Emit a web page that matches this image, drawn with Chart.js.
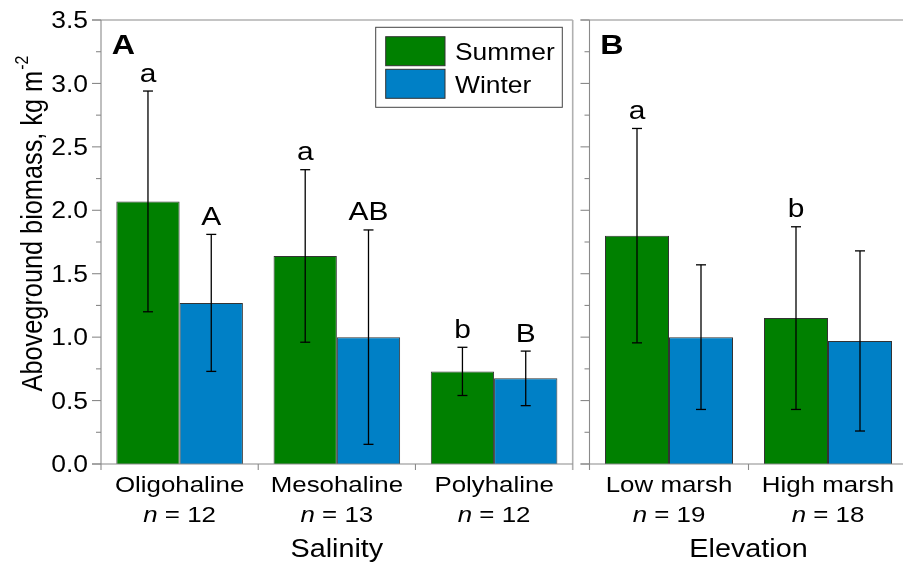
<!DOCTYPE html>
<html lang="en">
<head>
<meta charset="UTF-8" />
<title>Aboveground biomass by salinity and elevation</title>
<style>
  body { margin: 0; background: #fff; overflow: hidden; }
  .figure { position: relative; width: 903px; height: 562px; overflow: hidden; }
  #chartA { position: absolute; left: 0; top: 0; }
  #chartB { position: absolute; left: 580px; top: 0; }
</style>
<script src="https://cdn.jsdelivr.net/npm/chart.js"></script>
</head>
<body>
<div class="figure">
  <canvas id="chartA" width="580" height="562"></canvas>
  <canvas id="chartB" width="330" height="562"></canvas>
</div>
<script>
  // Panel A: salinity zones (mean and SD, kg m-2)
  const salinityZones = ['Oligohaline', 'Mesohaline', 'Polyhaline'];
  const salinityN = [12, 13, 12];
  const salinitySummer = [2.07, 1.64, 0.73];
  const salinitySummerSd = [0.87, 0.68, 0.19];
  const salinityWinter = [1.27, 1.0, 0.675];
  const salinityWinterSd = [0.54, 0.845, 0.215];
  const salinitySummerLetters = ['a', 'a', 'b'];
  const salinityWinterLetters = ['A', 'AB', 'B'];

  // Panel B: marsh elevation
  const elevationZones = ['Low marsh', 'High marsh'];
  const elevationN = [19, 18];
  const elevationSummer = [1.8, 1.15];
  const elevationSummerSd = [0.845, 0.72];
  const elevationWinter = [1.0, 0.97];
  const elevationWinterSd = [0.57, 0.71];
  const elevationSummerLetters = ['a', 'b'];
  const elevationWinterLetters = ['', ''];

  const yTicks = [0, 0.5, 1, 1.5, 2, 2.5, 3, 3.5];
  const yTickLabels = ['0.0', '0.5', '1.0', '1.5', '2.0', '2.5', '3.0', '3.5'];
  const seasons = ['Summer', 'Winter'];
  const seasonColors = ['#008000', '#0080c6'];

  const FONT = '"Liberation Sans", Arial, sans-serif';
  const SX = 1.15; // glyphs are set slightly wide
  const AXIS = '#8a8a8a';
  const FRAME = '#b0b0b0';

  function drawText(ctx, text, x, y, font, align, sx) {
    ctx.save();
    ctx.font = font;
    const w = ctx.measureText(text).width * sx;
    const x0 = align === 'center' ? x - w / 2 : align === 'right' ? x - w : x;
    ctx.translate(x0, y);
    ctx.scale(sx, 1);
    ctx.textAlign = 'left';
    ctx.textBaseline = 'alphabetic';
    ctx.fillStyle = '#000';
    ctx.fillText(text, 0, 0);
    ctx.restore();
  }

  // "n = 12" with an italic n, centred on x
  function drawN(ctx, n, x, y) {
    const size = 22.5;
    ctx.save();
    ctx.font = 'italic ' + size + 'px ' + FONT;
    const wn = ctx.measureText('n').width;
    ctx.font = size + 'px ' + FONT;
    const wr = ctx.measureText(' = ' + n).width;
    const x0 = x - (wn + wr) * SX / 2;
    ctx.restore();
    drawText(ctx, 'n', x0, y, 'italic ' + size + 'px ' + FONT, 'left', SX);
    drawText(ctx, ' = ' + n, x0 + wn * SX, y, size + 'px ' + FONT, 'left', SX);
  }

  function line(ctx, x1, y1, x2, y2) {
    ctx.beginPath();
    ctx.moveTo(x1, y1);
    ctx.lineTo(x2, y2);
    ctx.stroke();
  }

  function makePanel(cfg) {
    return {
      id: 'panel' + cfg.letter,
      afterDatasetsDraw(chart) {
        const ctx = chart.ctx;
        const y = chart.scales.y;
        ctx.save();
        ctx.strokeStyle = '#000';
        ctx.lineWidth = 1.3;
        chart.data.datasets.forEach((ds, di) => {
          chart.getDatasetMeta(di).data.forEach((bar, i) => {
            const v = ds.data[i];
            const top = y.getPixelForValue(v + ds.sd[i]);
            const bot = y.getPixelForValue(v - ds.sd[i]);
            line(ctx, bar.x, top, bar.x, bot);
            line(ctx, bar.x - 5, top, bar.x + 5, top);
            line(ctx, bar.x - 5, bot, bar.x + 5, bot);
            if (ds.letters[i]) {
              drawText(ctx, ds.letters[i], bar.x, top - 9.5, '26px ' + FONT, 'center', SX);
            }
          });
        });
        ctx.restore();
      },
      afterDraw(chart) {
        const ctx = chart.ctx;
        const a = chart.chartArea;
        const x = chart.scales.x;
        const y = chart.scales.y;
        const L = a.left, R = a.right, T = a.top, B = a.bottom;

        ctx.save();
        // frame: top and right edges
        ctx.strokeStyle = FRAME;
        ctx.lineWidth = 1.6;
        line(ctx, L - 9, T, R, T);
        line(ctx, R, T, R, B + 6);

        // axes and ticks
        ctx.strokeStyle = AXIS;
        ctx.lineWidth = 1.1;
        line(ctx, L, T, L, B + 6);
        line(ctx, L - 9, B, R, B);
        yTicks.forEach((v) => {
          const py = y.getPixelForValue(v);
          line(ctx, L - 9, py, L, py);
          if (v < 3.5) {
            const pm = y.getPixelForValue(v + 0.25);
            line(ctx, L - 5, pm, L, pm);
          }
        });
        const n = chart.data.labels.length;
        for (let i = 1; i < n; i++) {
          const xb = L + (i * (R - L)) / n;
          line(ctx, xb, B, xb, B + 6);
        }
        ctx.restore();

        if (cfg.yLabels) {
          yTicks.forEach((v, i) => {
            const py = y.getPixelForValue(v);
            drawText(ctx, yTickLabels[i], L - 13, py + 8.2, '23px ' + FONT, 'right', SX);
          });
        }

        // category names and sample sizes
        chart.data.labels.forEach((name, i) => {
          const cx = x.getPixelForValue(i);
          drawText(ctx, name, cx, 492, '22.5px ' + FONT, 'center', SX);
          drawN(ctx, cfg.n[i], cx, 521.7);
        });

        drawText(ctx, cfg.title, (L + R) / 2, 556.5, '25px ' + FONT, 'center', SX);
        drawText(ctx, cfg.letter, L + 10.7, 54.3, 'bold 28px ' + FONT, 'left', SX);

        if (cfg.yTitle) {
          ctx.save();
          ctx.translate(41.7, 224);
          ctx.rotate(-Math.PI / 2);
          ctx.scale(1, SX);
          ctx.fillStyle = '#000';
          ctx.textBaseline = 'alphabetic';
          ctx.textAlign = 'left';
          ctx.font = '25.3px ' + FONT;
          const main = 'Aboveground biomass, kg m';
          const w1 = ctx.measureText(main).width;
          ctx.font = '16px ' + FONT;
          const w2 = ctx.measureText('-2').width;
          const x0 = -(w1 + w2) / 2;
          ctx.font = '25.3px ' + FONT;
          ctx.fillText(main, x0, 0);
          ctx.font = '16px ' + FONT;
          ctx.fillText('-2', x0 + w1 + 1, -12);
          ctx.restore();
        }

        if (cfg.legend) {
          ctx.save();
          ctx.fillStyle = '#fff';
          ctx.fillRect(375.7, 27.3, 186.6, 80);
          ctx.strokeStyle = '#444';
          ctx.lineWidth = 1;
          ctx.strokeRect(375.7, 27.3, 186.6, 80);
          chart.data.datasets.forEach((ds, di) => {
            const top = di === 0 ? 36.7 : 69.3;
            ctx.fillStyle = ds.backgroundColor;
            ctx.fillRect(385.7, top, 59.3, 29);
            ctx.strokeStyle = '#333';
            ctx.strokeRect(385.7, top, 59.3, 29);
            drawText(ctx, ds.label, 455, top + 23.5, '24px ' + FONT, 'left', 1.1);
          });
          ctx.restore();
        }
      }
    };
  }

  function makeChart(id, cfg) {
    return new Chart(document.getElementById(id), {
      type: 'bar',
      data: {
        labels: cfg.labels,
        datasets: [
          {
            label: seasons[0],
            data: cfg.summer,
            sd: cfg.summerSd,
            letters: cfg.summerLetters,
            backgroundColor: seasonColors[0],
            borderColor: '#333',
            borderWidth: 1,
            categoryPercentage: 0.805,
            barPercentage: 1.0
          },
          {
            label: seasons[1],
            data: cfg.winter,
            sd: cfg.winterSd,
            letters: cfg.winterLetters,
            backgroundColor: seasonColors[1],
            borderColor: '#333',
            borderWidth: 1,
            categoryPercentage: 0.805,
            barPercentage: 1.0
          }
        ]
      },
      options: {
        responsive: false,
        animation: false,
        layout: { padding: { top: 20, right: cfg.padRight, left: 0, bottom: 0 } },
        plugins: { legend: { display: false }, tooltip: { enabled: false } },
        scales: {
          x: {
            grid: { display: false },
            border: { display: false },
            ticks: { display: false },
            afterFit: (s) => { s.height = 98; }
          },
          y: {
            min: 0,
            max: 3.5,
            grid: { display: false },
            border: { display: false },
            ticks: { display: false, stepSize: 0.5 },
            afterFit: (s) => { s.width = cfg.axisWidth; }
          }
        }
      },
      plugins: [makePanel(cfg)]
    });
  }

  makeChart('chartA', {
    labels: salinityZones,
    n: salinityN,
    summer: salinitySummer,
    summerSd: salinitySummerSd,
    winter: salinityWinter,
    winterSd: salinityWinterSd,
    summerLetters: salinitySummerLetters,
    winterLetters: salinityWinterLetters,
    letter: 'A',
    title: 'Salinity',
    yLabels: true,
    yTitle: true,
    legend: true,
    axisWidth: 101,
    padRight: 7.3
  });

  makeChart('chartB', {
    labels: elevationZones,
    n: elevationN,
    summer: elevationSummer,
    summerSd: elevationSummerSd,
    winter: elevationWinter,
    winterSd: elevationWinterSd,
    summerLetters: elevationSummerLetters,
    winterLetters: elevationWinterLetters,
    letter: 'B',
    title: 'Elevation',
    yLabels: false,
    yTitle: false,
    legend: false,
    axisWidth: 9.5,
    padRight: 2.5
  });
</script>
</body>
</html>
